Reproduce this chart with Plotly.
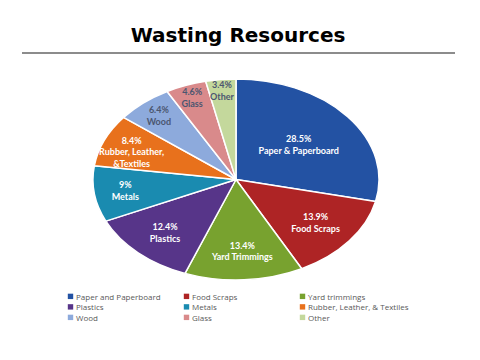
import plotly.graph_objects as go

categories = ["Paper and Paperboard", "Food Scraps", "Yard trimmings", "Plastics", "Metals",
              "Rubber, Leather, & Textiles", "Wood", "Glass", "Other"]
slice_labels = ["Paper & Paperboard", "Food Scraps", "Yard Trimmings", "Plastics", "Metals",
                "Rubber, Leather,<br>&Textiles", "Wood", "Glass", "Other"]
percent_labels = ["28.5%", "13.9%", "13.4%", "12.4%", "9%", "8.4%", "6.4%", "4.6%", "3.4%"]
values = [28.5, 13.9, 13.4, 12.4, 9.0, 8.4, 6.4, 4.6, 3.4]
colors = ["#2352A3", "#AE2425", "#78A22F", "#573589", "#1A8BB0", "#E8711C", "#8DAADC", "#D98A8B", "#C4D89C"]
text_colors = ["white"] * 6 + ["#4B5670"] * 3

texts = [p + "<br>" + s for p, s in zip(percent_labels, slice_labels)]

W = 480
R_MARGIN = 100
PW = W - R_MARGIN  # plot-area width used for paper fractions

fig = go.Figure(go.Pie(
    labels=categories,
    values=values,
    text=texts,
    textinfo="text",
    texttemplate="%{text}",
    textposition="inside",
    insidetextorientation="horizontal",
    insidetextfont=dict(color=text_colors, size=9, family="Lato", weight="bold"),
    marker=dict(colors=colors, line=dict(color="white", width=1.5)),
    sort=False,
    direction="clockwise",
    rotation=0,
    hoverinfo="label+percent",
    domain=dict(x=[116/PW, 356/PW], y=[1 - 280/360, 1 - 79/360]),
))

fig.update_layout(
    width=W, height=360,
    margin=dict(l=0, r=R_MARGIN, t=0, b=0),
    paper_bgcolor="white",
    plot_bgcolor="white",
    title=dict(text="<b>Wasting Resources</b>", x=0.496, xanchor="center", y=0.902, yanchor="middle",
               font=dict(family="DejaVu Sans", size=20, color="black")),
    legend=dict(orientation="h", x=36/PW, xanchor="left", y=0.217, yanchor="top",
                entrywidth=71, entrywidthmode="pixels", traceorder="normal",
                bgcolor="rgba(0,0,0,0)",
                font=dict(size=8, color="#595959", family="Open Sans")),
    shapes=[dict(type="line", xref="paper", yref="paper", x0=22/PW, x1=455/PW,
                 y0=1-53/360, y1=1-53/360, line=dict(color="#666666", width=1.5))],
)

post = """
document.body.style.margin = '0';
var gd = document.getElementById('{plot_id}');
function parseTr(s){
  var m = (s || '').match(/translate\\(\\s*([-\\d.e]+)[\\s,]*([-\\d.e]+)?/);
  return m ? [parseFloat(m[1]), parseFloat(m[2] || 0)] : null;
}
function stretchPie(){
  var cd = gd.calcdata && gd.calcdata[0] && gd.calcdata[0][0];
  var cx = (cd && cd.cx) ? cd.cx : 236;
  var sx = 1.423;
  gd.querySelectorAll('.pielayer path.surface').forEach(function(p){
    p.setAttribute('transform', 'translate(' + cx + ',0) scale(' + sx + ',1) translate(' + (-cx) + ',0)');
    p.style.vectorEffect = 'non-scaling-stroke';
  });
  gd.querySelectorAll('.pielayer .slicetext').forEach(function(t){
    var tr = t.getAttribute('transform') || '';
    if (tr.indexOf('translate') < 0) return;
    tr = tr.replace(/scale\\([^)]*\\)/, '');
    var p = parseTr(tr);
    if (p) {
      var nx = cx + sx * (p[0] - cx);
      t.setAttribute('transform', 'translate(' + (nx - p[0]) + ',0) ' + tr);
    } else {
      t.setAttribute('transform', tr);
    }
  });
  // legend: no clipping, tighter rows, small square swatches next to the text
  gd.querySelectorAll('.legend .scrollbox, .legend').forEach(function(s){ s.removeAttribute('clip-path'); });
  var items = gd.querySelectorAll('.legend g.traces');
  var y0 = null;
  items.forEach(function(g){
    var p = parseTr(g.getAttribute('transform'));
    if (!p) return;
    if (y0 === null || p[1] < y0) y0 = p[1];
  });
  items.forEach(function(g){
    var p = parseTr(g.getAttribute('transform'));
    if (!p) return;
    g.setAttribute('transform', 'translate(' + p[0] + ',' + (y0 + (p[1] - y0) * 10.5 / 19) + ')');
  });
  gd.querySelectorAll('.legend path.legendpie').forEach(function(s){
    var p = parseTr(s.getAttribute('transform')) || [20, 0];
    s.setAttribute('transform', 'translate(' + (p[0] + 14.5) + ',' + p[1] + ') scale(0.45)');
    s.style.strokeWidth = '0';
  });
}
stretchPie();
"""

fig.write_html("out.html", post_script=post, config={"displayModeBar": False})
